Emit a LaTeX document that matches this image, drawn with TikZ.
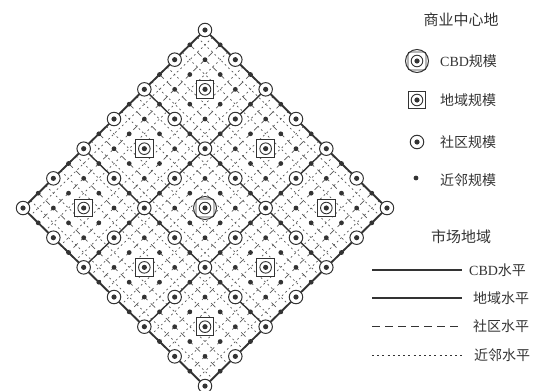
\documentclass[tikz,border=0pt]{standalone}
\usepackage{fontspec}
\setmainfont{Liberation Serif}
\newfontfamily\cjk{Noto Sans CJK SC}
\usetikzlibrary{backgrounds}
\definecolor{ink}{HTML}{333333}
\definecolor{fine}{HTML}{555555}
\tikzset{
  nbsym/.style={circle, fill=ink, minimum size=4.8pt, inner sep=0pt},
  comsym/.style={circle, draw=ink, fill=white, line width=1pt, minimum size=13.5pt, inner sep=0pt,
    path picture={\fill[ink] (path picture bounding box.center) circle (2.6pt);}},
  regsym/.style={rectangle, draw=ink, fill=white, line width=1pt, minimum size=17.5pt, inner sep=0pt,
    path picture={\draw[ink, line width=0.9pt] (path picture bounding box.center) circle (5.8pt);
                  \fill[ink] (path picture bounding box.center) circle (2.6pt);}},
  cbdsym/.style={circle, draw=ink, fill=white, line width=1pt, minimum size=23pt, inner sep=0pt,
    path picture={\draw[ink, line width=0.9pt] (path picture bounding box.center) circle (5.8pt);
                  \fill[ink] (path picture bounding box.center) circle (2.6pt);}},
  cbdsq/.style={rectangle, draw=ink, rounded corners=2pt, line width=0.9pt, minimum size=18pt, inner sep=0pt},
  cbdline/.style={draw=ink, line width=1.9pt},
  regline/.style={draw=ink, line width=1.4pt},
  commline/.style={draw=fine, line width=0.7pt, dash pattern=on 6pt off 4.5pt},
  nbline/.style={draw=fine, line width=0.7pt, dash pattern=on 1.8pt off 3pt},
  legcomm/.style={draw=ink, line width=0.9pt, dash pattern=on 8pt off 5pt},
  legnb/.style={draw=ink, line width=0.9pt, dash pattern=on 2pt off 3.2pt},
  lab/.style={anchor=west, inner sep=0pt, text=ink, font=\fontsize{14}{16}\selectfont},
  head/.style={inner sep=0pt, text=ink, font=\cjk\fontsize{15}{17}\selectfont},
}
\begin{document}
\begin{tikzpicture}[x=1pt, y=-1pt]
\useasboundingbox (0,0) rectangle (533,391);
\begin{scope}[shift={(205pt,-30pt)}, x={(30.33pt,-29.67pt)}, y={(-30.33pt,-29.67pt)}]
  % neighborhood centres
  \foreach \a in {0,...,12}{\foreach \b in {0,...,12}{
    \pgfmathtruncatemacro\ev{(1-mod(\a,2))*(1-mod(\b,2))}
    \ifnum\ev=0 \node[nbsym] (nb-\a-\b) at ({\a/2},{\b/2}) {};\fi
  }}
  % community, regional and CBD centres
  \foreach \i in {0,...,6}{\foreach \j in {0,...,6}{
    \pgfmathtruncatemacro\od{mod(\i,2)*mod(\j,2)}
    \ifnum\od=0
      \node[comsym] (com-\i-\j) at (\i,\j) {};
    \else
      \ifnum\i\j=33
        \node[cbdsym] (cbd) at (3,3) {};
        \node[cbdsq] (cbd-sq) at (3,3) {};
      \else
        \node[regsym] (reg-\i-\j) at (\i,\j) {};
      \fi
    \fi
  }}
  \begin{pgfonlayer}{background}
    \foreach \k in {1,3,...,23}{
      \draw[nbline] ({\k/4},0) -- ({\k/4},6);
      \draw[nbline] (0,{\k/4}) -- (6,{\k/4});
    }
    \foreach \k in {1,3,...,11}{
      \draw[commline] ({\k/2},0) -- ({\k/2},6);
      \draw[commline] (0,{\k/2}) -- (6,{\k/2});
    }
    \foreach \k in {2,4}{
      \draw[regline] (com-\k-0.center) -- (com-\k-6.center);
      \draw[regline] (com-0-\k.center) -- (com-6-\k.center);
    }
    \draw[cbdline] (com-0-0.center) -- (com-6-0.center) -- (com-6-6.center) -- (com-0-6.center) -- cycle;
  \end{pgfonlayer}
\end{scope}
% legend: centres
\node[head] (h-centre) at (461,20) {商业中心地};
\node[cbdsym] (l-cbd) at (417,61) {};
\node[cbdsq] (l-cbd-sq) at (417,61) {};
\node[lab] (t-cbd) at (440,61) {CBD{\cjk 规模}};
\node[regsym] (l-reg) at (417,100) {};
\node[lab] (t-reg) at (440,100) {\cjk 地域规模};
\node[comsym] (l-com) at (417,142) {};
\node[lab] (t-com) at (440,142) {\cjk 社区规模};
\node[nbsym] (l-nb) at (416,178) {};
\node[lab] (t-nb) at (440,180) {\cjk 近邻规模};
% legend: market areas
\node[head] (h-market) at (461,237) {市场地域};
\coordinate (a1) at (372,270); \coordinate (a2) at (462,270);
\coordinate (b1) at (372,298); \coordinate (b2) at (462,298);
\coordinate (c1) at (372,326); \coordinate (c2) at (462,326);
\coordinate (d1) at (372,355); \coordinate (d2) at (462,355);
\draw[cbdline] (a1) -- (a2);
\draw[regline] (b1) -- (b2);
\draw[legcomm] (c1) -- (c2);
\draw[legnb] (d1) -- (d2);
\node[lab] (t-a) at (469,270) {CBD{\cjk 水平}};
\node[lab] (t-b) at (473,298) {\cjk 地域水平};
\node[lab] (t-c) at (473,326) {\cjk 社区水平};
\node[lab] (t-d) at (474,355) {\cjk 近邻水平};
\end{tikzpicture}
\end{document}
